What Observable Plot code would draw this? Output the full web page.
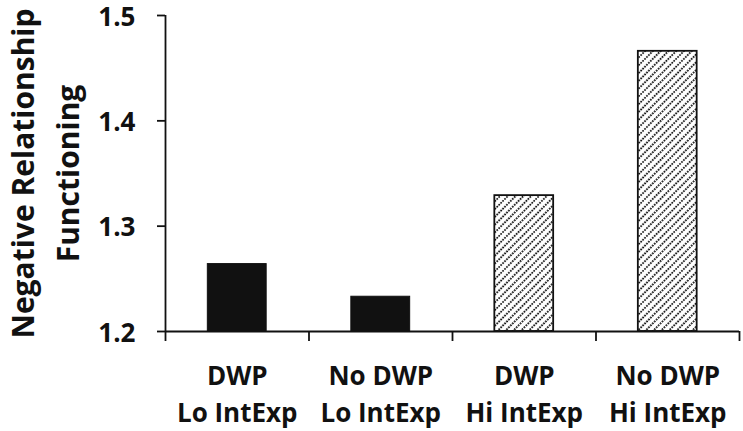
<!DOCTYPE html>
<html>
<head>
<meta charset="utf-8">
<script src="https://cdn.jsdelivr.net/npm/d3@7"></script>
<script src="https://cdn.jsdelivr.net/npm/@observablehq/plot@0.6"></script>
<style>
  html, body { margin: 0; padding: 0; background: #fff; }
  svg { display: block; }
</style>
</head>
<body>
<div id="chart"></div>
<script>
// ---- data ----
const line1 = ["DWP", "No DWP", "DWP", "No DWP"];
const line2 = ["Lo IntExp", "Lo IntExp", "Hi IntExp", "Hi IntExp"];
const groups = ["Lo", "Lo", "Hi", "Hi"];
const values = [1.264, 1.233, 1.329, 1.466];
const yTicks = [1.2, 1.3, 1.4, 1.5];
const yLabel = "Negative Relationship\nFunctioning";

// ---- layout / style ----
const yDomain = [1.2, 1.5];
const xDomain = [-0.5, values.length - 0.5];
const barHalf = 0.205;
const font = "Open Sans";

const data = values.map((v, i) => ({
  i, value: v, group: groups[i], label: line1[i] + "\n" + line2[i]
}));
const boundaries = d3.range(values.length + 1).map(k => k - 0.5);

const plot = Plot.plot({
  width: 743,
  height: 431,
  marginLeft: 165,
  marginRight: 4,
  marginTop: 15,
  marginBottom: 100,
  style: { fontFamily: font, fontWeight: "bold", color: "#111", background: "#fff" },
  x: { type: "linear", domain: xDomain, axis: null },
  y: { domain: yDomain, axis: null },
  marks: [
    Plot.rectY(data.filter(d => d.group === "Lo"), {
      x1: d => d.i - barHalf, x2: d => d.i + barHalf,
      y1: () => yDomain[0], y2: "value",
      fill: "#111", stroke: "#111", strokeWidth: 1
    }),
    Plot.rectY(data.filter(d => d.group === "Hi"), {
      x1: d => d.i - barHalf, x2: d => d.i + barHalf,
      y1: () => yDomain[0], y2: "value",
      fill: "url(#hatch)", stroke: "#111", strokeWidth: 1.8
    }),
    Plot.ruleX([xDomain[0]], { stroke: "#111", strokeWidth: 1.8 }),
    Plot.ruleY([yDomain[0]], { stroke: "#111", strokeWidth: 1.8 }),
    Plot.axisY({
      ticks: yTicks, tickSize: 8, tickFormat: () => "",
      stroke: "#111", strokeWidth: 1.8, label: null
    }),
    Plot.axisY({
      ticks: yTicks, tickSize: 0, tickPadding: 30, tickFormat: ".1f",
      fontSize: 26, dy: 2, fontWeight: "bold", label: null
    }),
    Plot.axisX({
      ticks: boundaries, tickSize: 10, tickFormat: () => "",
      stroke: "#111", strokeWidth: 1.8, label: null
    }),
    Plot.axisX({
      ticks: data.map(d => d.i), tickSize: 0, tickPadding: 27,
      tickFormat: i => data[i].label, lineHeight: 1.42,
      fontSize: 26, fontWeight: "bold", label: null
    }),
    Plot.text([yLabel], {
      frameAnchor: "left", dx: -123, rotate: -90,
      text: d => d, textAnchor: "middle", lineAnchor: "middle",
      lineHeight: 1.5, fontSize: 30, fontWeight: "bold", fill: "#111"
    })
  ]
});

const defs = d3.select(plot).insert("defs", ":first-child");
const pat = defs.append("pattern")
  .attr("id", "hatch")
  .attr("patternUnits", "userSpaceOnUse")
  .attr("width", 5.5).attr("height", 5.5)
  .attr("patternTransform", "rotate(45)");
pat.append("rect").attr("width", 5.5).attr("height", 5.5).attr("fill", "#fff");
pat.append("line")
  .attr("x1", 2.75).attr("y1", 0).attr("x2", 2.75).attr("y2", 5.5)
  .attr("stroke", "#111").attr("stroke-width", 1.9)
  .attr("stroke-dasharray", "1.6 1.15");

document.getElementById("chart").appendChild(plot);
</script>
</body>
</html>
